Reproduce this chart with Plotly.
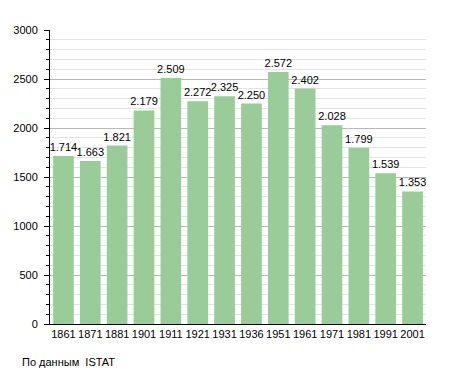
import plotly.graph_objects as go

years = ["1861", "1871", "1881", "1901", "1911", "1921", "1931", "1936", "1951", "1961", "1971", "1981", "1991", "2001"]
population = [1714, 1663, 1821, 2179, 2509, 2272, 2325, 2250, 2572, 2402, 2028, 1799, 1539, 1353]
y_ticks = [0, 500, 1000, 1500, 2000, 2500, 3000]
source_note = "По данным  ISTAT"

labels = [f"{v:,}".replace(",", ".") for v in population]

fig = go.Figure(go.Bar(
    x=years, y=population, text=labels, textposition="outside",
    textfont=dict(size=11, color="#000000", family="Liberation Sans, Arial"),
    marker=dict(color="#99CC99", line=dict(width=0)),
    cliponaxis=False,
))

fig.update_layout(
    width=455, height=373,
    margin=dict(l=50, r=29, t=30, b=49, autoexpand=False),
    plot_bgcolor="white", paper_bgcolor="white",
    bargap=0.23,
    showlegend=False,
    font=dict(family="Liberation Sans, Arial", size=11, color="#000000"),
    uniformtext=dict(minsize=11, mode="show"),
)
fig.update_xaxes(
    type="category", showline=True, linecolor="#000000", linewidth=1,
    ticks="", tickfont=dict(size=11), showgrid=False, automargin=False,
)
fig.update_yaxes(
    range=[0, 3000], tickvals=y_ticks, showline=True, linecolor="#000000", linewidth=1,
    ticks="outside", ticklen=5, tickcolor="#000000", tickfont=dict(size=11),
    ticklabelstandoff=4,
    showgrid=True, gridcolor="#b8b8b8", gridwidth=1, zeroline=False, automargin=False,
    minor=dict(dtick=100, showgrid=True, gridcolor="#e4e4e4", ticks="outside", ticklen=3, tickcolor="#000000"),
)
fig.add_annotation(
    text=source_note, xref="paper", yref="paper", x=-0.08, y=-0.13,
    xanchor="left", yanchor="middle", showarrow=False, font=dict(size=11, color="#000000"),
)
fig.write_html("out.html", config={"displayModeBar": False},
               post_script="document.body.style.margin='0';")
